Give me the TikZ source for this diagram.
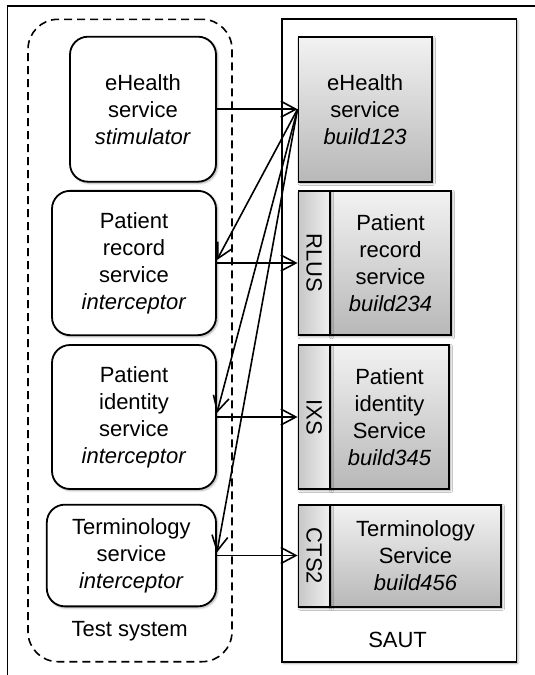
\documentclass[tikz,border=0pt]{standalone}
\usepackage{fontspec}
\setmainfont{Liberation Sans}
\usetikzlibrary{arrows.meta,shadows.blur}
\begin{document}
\begin{tikzpicture}[x=1pt,y=-1pt,
  txt/.style={font=\fontsize{22}{27}\selectfont, align=center, inner sep=0pt},
  shad/.style={blur shadow={shadow xshift=1.5pt, shadow yshift=-1.5pt, shadow blur steps=6, shadow opacity=35}},
  tbox/.style={draw, line width=1.8pt, rounded corners=18pt, fill=white, txt, shad},
  gbox/.style={draw, line width=1.9pt, top color=black!5, bottom color=black!28, txt, shad},
  stripbox/.style={draw, line width=1.9pt, left color=black!22, right color=black!6, inner sep=0pt, shad},
  arr/.style={-{Straight Barb[length=15pt,width=16pt]}, line width=1.6pt}]
\useasboundingbox (0,0) rectangle (535,675);
\clip (0,0) rectangle (535,675);
% outer frame
\coordinate (f1) at (7.5,700);
\coordinate (f2) at (7.5,6);
\coordinate (f3) at (560,6);
\draw[line width=1.8pt] (f1) -- (f2) -- (f3);
% containers
\node[draw, dashed, dash pattern=on 8pt off 5pt, rounded corners=30pt, line width=1.6pt,
      minimum width=204pt, minimum height=642.4pt, inner sep=0pt] (tsys) at (130,340.5) {};
\node[draw, line width=1.7pt, fill=white, minimum width=234.7pt, minimum height=642.4pt, inner sep=0pt, shad] (saut) at (399,340.5) {};
% left boxes
\node[tbox, minimum width=146pt, minimum height=145pt] (a1) at (143,109.2) {eHealth\\service\\\textit{stimulator}};
\node[tbox, minimum width=164pt, minimum height=144.3pt] (a2) at (134,263) {Patient\\record\\service\\\textit{interceptor}};
\node[tbox, minimum width=164pt, minimum height=144pt] (a3) at (134,417) {Patient\\identity\\service\\\textit{interceptor}};
\node[tbox, minimum width=169.2pt, minimum height=101.7pt] (a4) at (131.4,555.5) {Terminology\\service\\\textit{interceptor}};
% right boxes
\node[gbox, minimum width=133.2pt, minimum height=145pt] (b1) at (365.1,109.2) {eHealth\\service\\\textit{build123}};
\node[gbox, minimum width=121pt, minimum height=144.3pt] (b2) at (390.5,263) {Patient\\record\\service\\\textit{build234}};
\node[stripbox, minimum width=31.5pt, minimum height=144.3pt] (s2) at (314.25,263) {};
\node[gbox, minimum width=119pt, minimum height=144pt] (b3) at (389.5,417) {Patient\\identity\\Service\\\textit{build345}};
\node[stripbox, minimum width=31.5pt, minimum height=144pt] (s3) at (314.25,417) {};
\node[gbox, minimum width=171pt, minimum height=101.7pt] (b4) at (415.5,555.8) {Terminology\\Service\\\textit{build456}};
\node[stripbox, minimum width=31.5pt, minimum height=101.7pt] (s4) at (314.25,555.8) {};
\node[txt, rotate=-90] (s2t) at (s2) {RLUS};
\node[txt, rotate=-90] (s3t) at (s3) {IXS};
\node[txt, rotate=-90] (s4t) at (s4) {CTS2};
% labels
\node[txt] (tsl) at (129.7,631.7) {Test system};
\node[txt] (sautl) at (397.6,640) {SAUT};
% arrows
\draw[arr] (a1.east) -- (b1.west);
\draw[arr] (a2.east) -- (s2.west);
\draw[arr] (a3.east) -- (s3.west);
\draw[arr] (a4.east) -- (a4.east -| s4.west);
\draw[arr] (b1.west) -- ([yshift=3pt]a2.east);
\draw[arr] (b1.west) -- ([yshift=4pt]a3.east);
\draw[arr] (b1.west) -- ([yshift=3pt]a4.east);
\end{tikzpicture}
\end{document}
